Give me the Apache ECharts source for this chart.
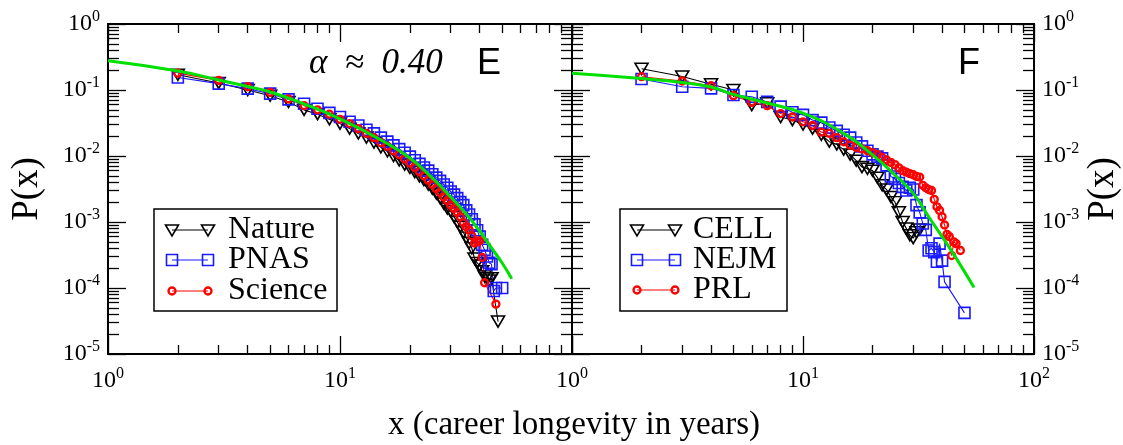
<!DOCTYPE html>
<html>
<head>
<meta charset="utf-8">
<script src="https://cdn.jsdelivr.net/npm/echarts@6/dist/echarts.min.js"></script>
<style>
html, body { margin: 0; padding: 0; background: #fff; }
#chart { width: 1123px; height: 445px; }
</style>
</head>
<body>
<div id="chart"></div>
<script>
// ---- data ----
// panel E
var natureX = [2,3,4,5,6,7,8,9,10,11,12,13,14,15,16,17,18,19,20,21,22,23,24,25,26,27,28,29,30,31,32,33,34,35,36,37,38,39,40,41,42,43,44,45,48];
var natureY = [0.17,0.128,0.10,0.082,0.066,0.050,0.043,0.036,0.031,0.026,0.022,0.019,0.016,0.0135,0.0118,0.0100,0.0086,0.0074,0.0066,0.0057,0.0049,0.0043,0.0037,0.0032,0.0027,0.0023,0.0019,0.0016,0.00145,0.0012,0.0010,0.00085,0.0007,0.00058,0.00048,0.0004,0.00028,0.00024,0.00022,0.00018,0.00015,0.00014,0.00013,0.00014,0.000031];
var pnasX = [2,3,4,5,6,7,8,9,10,11,12,13,14,15,16,17,18,19,20,21,22,23,24,25,26,27,28,29,30,31,32,33,34,35,36,37,38,39,40,41,42,43,44,45,46,47,50];
var pnasY = [0.155,0.125,0.105,0.088,0.072,0.062,0.052,0.045,0.039,0.033,0.029,0.025,0.022,0.019,0.0165,0.0145,0.0127,0.0112,0.0098,0.0086,0.0076,0.0067,0.0060,0.0053,0.0047,0.0042,0.0037,0.0033,0.0029,0.0026,0.0023,0.0020,0.0018,0.0015,0.0013,0.0011,0.00092,0.00075,0.0006,0.00045,0.00038,0.0003,0.00024,0.00023,0.00009,0.0001,0.0001];
var scienceX = [2,3,4,5,6,7,8,9,10,11,12,13,14,15,16,17,18,19,20,21,22,23,24,25,26,27,28,29,30,31,32,33,34,35,36,37,38,39,40,41,42,47];
var scienceY = [0.18,0.14,0.112,0.092,0.073,0.058,0.050,0.043,0.036,0.031,0.026,0.022,0.019,0.016,0.014,0.012,0.0105,0.009,0.0078,0.0067,0.0058,0.0050,0.0043,0.0037,0.0032,0.0028,0.0024,0.0021,0.0018,0.0016,0.0014,0.0012,0.00098,0.00085,0.00076,0.00062,0.00048,0.0005,0.00052,0.00029,0.00012,0.000057];
var fitEX = [1,2,3,4,5,7,10,15,20,25,30,35,40,45,50,55];
var fitEY = [0.278,0.194,0.142,0.113,0.0933,0.0614,0.0364,0.0175,0.00933,0.00464,0.00239,0.00132,0.00073,0.000404,0.000239,0.000138];

// panel F
var cellX = [2,3,4,5,6,7,8,9,10,11,12,13,14,15,16,17,18,19,20,21,22,23,24,25,26,27,28,29,30,31,32];
var cellY = [0.21,0.16,0.122,0.10,0.059,0.063,0.039,0.035,0.030,0.026,0.021,0.0165,0.0150,0.0125,0.0105,0.0085,0.0068,0.0064,0.0060,0.0047,0.0036,0.0031,0.0024,0.0020,0.0014,0.0010,0.0008,0.00063,0.00057,0.0007,0.00077];
var nejmX = [2,3,4,5,6,7,8,9,10,11,12,13,14,15,16,17,18,19,20,21,22,23,24,25,26,27,28,29,30,31,32,33,34,35,36,37,38,39,40,41,50];
var nejmY = [0.147,0.112,0.106,0.084,0.079,0.066,0.056,0.046,0.042,0.035,0.032,0.027,0.024,0.021,0.019,0.016,0.014,0.012,0.0106,0.0098,0.0092,0.0072,0.0049,0.0045,0.0039,0.0034,0.0030,0.0033,0.0031,0.0018,0.0014,0.00095,0.00076,0.00037,0.0004,0.00035,0.00025,0.00047,0.00026,0.000124,0.000042];
var prlX = [2,3,4,5,6,7,8,9,10,11,12,13,14,15,16,17,18,19,20,21,22,23,24,25,26,27,28,29,30,31,32,33,34,35,36,37,38,39,40,41,42,43,44,45,46,48];
var prlY = [0.159,0.137,0.116,0.082,0.065,0.058,0.044,0.039,0.033,0.029,0.023,0.022,0.019,0.0164,0.0146,0.0135,0.0128,0.0120,0.0112,0.0105,0.0095,0.0087,0.0080,0.0074,0.0066,0.0060,0.0057,0.0054,0.0052,0.0049,0.0048,0.0036,0.0033,0.0031,0.0030,0.0022,0.0017,0.0015,0.0012,0.0009,0.00065,0.0006,0.00031,0.0005,0.00047,0.00037];
var fitFX = [1,2,3,4,5,7,10,15,20,25,30,35,40,45,50,55];
var fitFY = [0.179,0.149,0.130,0.111,0.086,0.0635,0.0445,0.022,0.0104,0.00515,0.00272,0.0012,0.0006,0.00032,0.000177,0.000102];

// ticks
var xMajor = [1, 10, 100];
var xMinor = [2,3,4,5,6,7,8,9,20,30,40,50,60,70,80,90];
var yMajor = [1e-5, 1e-4, 1e-3, 1e-2, 1e-1, 1];
var yMinor = [];
for (var k = -5; k < 0; k++) {
    for (var m = 2; m <= 9; m++) yMinor.push(+(m * Math.pow(10, k)).toPrecision(3));
}

var SERIF = '"Liberation Serif", "Times New Roman", serif';
var SANS = '"Liberation Sans", Arial, sans-serif';

function zip(xs, ys) {
    var out = [];
    for (var i = 0; i < xs.length; i++) out.push([xs[i], ys[i]]);
    return out;
}

function powLabel(v) {
    var e = Math.round(Math.log10(v));
    return '{b|10}{s|' + e + '}';
}
var labelRich = {
    b: { fontFamily: SERIF, fontSize: 24, color: '#000' },
    s: { fontFamily: SERIF, fontSize: 16, color: '#000', padding: [0, 0, 14, 0] }
};

function axis(kind, grid, pos, ticks, len, labels, extra) {
    var a = {
        type: 'log', logBase: 10, gridIndex: grid, position: pos,
        min: kind === 'x' ? 1 : 1e-5, max: kind === 'x' ? 100 : 1,
        axisLine: { show: true, onZero: false, lineStyle: { color: '#000', width: 2 } },
        axisTick: { show: true, inside: true, length: len, customValues: ticks,
                    lineStyle: { color: '#000', width: 1.3 } },
        axisLabel: labels ? { show: true, customValues: labels, formatter: powLabel, rich: labelRich,
                              fontFamily: SERIF, fontSize: 24, color: '#000',
                              margin: kind === 'x' ? 12 : 8 } : { show: false },
        splitLine: { show: false },
        minorTick: { show: false }
    };
    for (var key in extra) a[key] = extra[key];
    return a;
}

var chart = echarts.init(document.getElementById('chart'));

function yName(gap) {
    return {
        name: 'P(x)', nameLocation: 'middle', nameRotate: 90, nameGap: gap,
        nameTextStyle: { fontFamily: SERIF, fontSize: 37, color: '#000' }
    };
}

var xAxes = [], yAxes = [];
[0, 1].forEach(function (g) {
    xAxes.push(axis('x', g, 'bottom', xMajor, 18, g === 0 ? [1, 10] : [1, 10, 100]));
    xAxes.push(axis('x', g, 'bottom', xMinor, 9, null));
    xAxes.push(axis('x', g, 'top', xMajor, 18, null));
    xAxes.push(axis('x', g, 'top', xMinor, 9, null));
    yAxes.push(axis('y', g, 'left', yMajor, 18, g === 0 ? yMajor : null, g === 0 ? yName(62) : {}));
    yAxes.push(axis('y', g, 'left', yMinor, 11, null));
    yAxes.push(axis('y', g, 'right', yMajor, 18, g === 1 ? yMajor : null, g === 1 ? yName(51) : {}));
    yAxes.push(axis('y', g, 'right', yMinor, 11, null));
});

function markerSeries(name, g, xs, ys, shape, color) {
    var s = {
        name: name, type: 'line', xAxisIndex: g * 4, yAxisIndex: g * 4,
        data: zip(xs, ys),
        lineStyle: { color: color, width: 1.1 },
        itemStyle: { color: 'rgba(255,255,255,0)', borderColor: color, borderWidth: 1.6 },
        emphasis: { disabled: true },
        showAllSymbol: true
    };
    if (shape === 'tri') {
        s.symbol = 'triangle'; s.symbolRotate = 180; s.symbolSize = [13, 11];
    } else if (shape === 'sq') {
        s.symbol = 'rect'; s.symbolSize = 11;
    } else {
        s.symbol = 'circle'; s.symbolSize = 7; s.itemStyle.borderWidth = 2.3;
    }
    return s;
}
function fitSeries(g, xs, ys) {
    return {
        name: 'fit', type: 'line', xAxisIndex: g * 4, yAxisIndex: g * 4,
        data: zip(xs, ys), smooth: true, symbol: 'none',
        lineStyle: { color: '#00e000', width: 3 }, z: 5
    };
}

var BLUE = '#1a1aff', RED = '#ff0000', BLACK = '#000';

// legend drawn as graphics, two markers per entry like the original
function marker(shape, cx, cy, color) {
    if (shape === 'tri') {
        return { type: 'polygon', shape: { points: [[cx - 6.5, cy - 5], [cx + 6.5, cy - 5], [cx, cy + 6]] },
                 style: { fill: 'transparent', stroke: color, lineWidth: 1.6 } };
    }
    if (shape === 'sq') {
        return { type: 'rect', shape: { x: cx - 5.5, y: cy - 5.5, width: 11, height: 11 },
                 style: { fill: 'transparent', stroke: color, lineWidth: 1.6 } };
    }
    return { type: 'circle', shape: { cx: cx, cy: cy, r: 3.5 },
             style: { fill: 'transparent', stroke: color, lineWidth: 2.3 } };
}
function legendBox(x, y, w, h, x1, x2, tx, rows) {
    var els = [{ type: 'rect', shape: { x: x, y: y, width: w, height: h },
                 style: { fill: '#fff', stroke: '#000', lineWidth: 1.5 } }];
    rows.forEach(function (r) {
        els.push({ type: 'line', shape: { x1: x1, y1: r.y, x2: x2, y2: r.y },
                   style: { stroke: r.color, lineWidth: 1.2 } });
        els.push(marker(r.shape, x1, r.y, r.color));
        els.push(marker(r.shape, x2, r.y, r.color));
        els.push({ type: 'text', x: tx, y: r.y,
                   style: { text: r.label, fontFamily: SERIF, fontSize: 32, fill: '#000', verticalAlign: 'middle' } });
    });
    return { type: 'group', z: 100, children: els };
}

var gridBase = { top: 24, height: 330, containLabel: false, outerBoundsMode: 'none' };
var option = {
    animation: false,
    backgroundColor: '#fff',
    grid: [
        Object.assign({ left: 108, width: 464 }, gridBase),
        Object.assign({ left: 572, width: 462 }, gridBase)
    ],
    xAxis: xAxes,
    yAxis: yAxes,
    series: [
        markerSeries('Nature', 0, natureX, natureY, 'tri', BLACK),
        markerSeries('PNAS', 0, pnasX, pnasY, 'sq', BLUE),
        markerSeries('Science', 0, scienceX, scienceY, 'circ', RED),
        fitSeries(0, fitEX, fitEY),
        markerSeries('CELL', 1, cellX, cellY, 'tri', BLACK),
        markerSeries('NEJM', 1, nejmX, nejmY, 'sq', BLUE),
        markerSeries('PRL', 1, prlX, prlY, 'circ', RED),
        fitSeries(1, fitFX, fitFY)
    ],
    graphic: [
        legendBox(154, 209, 183, 102, 172, 208, 228, [
            { y: 230, shape: 'tri', color: BLACK, label: 'Nature' },
            { y: 260, shape: 'sq', color: BLUE, label: 'PNAS' },
            { y: 291, shape: 'circ', color: RED, label: 'Science' }
        ]),
        legendBox(620, 209, 167, 102, 637, 675, 693, [
            { y: 230, shape: 'tri', color: BLACK, label: 'CELL' },
            { y: 260, shape: 'sq', color: BLUE, label: 'NEJM' },
            { y: 290, shape: 'circ', color: RED, label: 'PRL' }
        ]),
        { type: 'text', x: 309, y: 64, style: { text: 'α\u2002≈\u20020.40', fontFamily: SERIF, fontStyle: 'italic',
          fontSize: 35, fill: '#000', verticalAlign: 'middle' } },
        { type: 'text', x: 477, y: 64, style: { text: 'E', fontFamily: SANS, fontSize: 36, fill: '#000',
          verticalAlign: 'middle' } },
        { type: 'text', x: 958, y: 64, style: { text: 'F', fontFamily: SANS, fontSize: 36, fill: '#000',
          verticalAlign: 'middle' } },
        { type: 'text', x: 574, y: 425, style: { text: 'x (career longevity in years)', fontFamily: SERIF,
          fontSize: 33, fill: '#000', align: 'center', verticalAlign: 'middle' } }
    ]
};

chart.setOption(option);

window.onresize = function () {
    chart.resize();
};
</script>
</body>
</html>
